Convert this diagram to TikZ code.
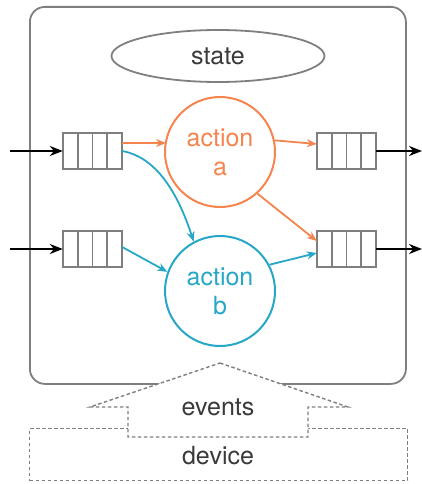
\documentclass[tikz,border=0pt]{standalone}
\usepackage{fontspec}
\setmainfont{TeX Gyre Heros}
\usetikzlibrary{arrows.meta,shapes.geometric,fit}
\definecolor{orng}{HTML}{F5844F}
\definecolor{cyn}{HTML}{26A7C7}
\definecolor{gry}{HTML}{7F7F7F}
\definecolor{txt}{HTML}{3A3A3A}
\tikzset{
  qcell/.style={draw=gry,line width=1.6pt,minimum width=14.75pt,minimum height=36pt,inner sep=0pt,outer sep=0pt},
  act/.style={circle,draw,line width=2pt,minimum size=110pt,inner sep=0pt,align=center,font=\fontsize{25}{29}\selectfont},
  oarr/.style={draw=orng,line width=1.8pt,-{Stealth[length=10pt,width=8pt]}},
  carr/.style={draw=cyn,line width=1.8pt,-{Stealth[length=10pt,width=8pt]}},
  barr/.style={draw=black,line width=2pt,-{Stealth[length=13pt,width=10pt]}},
  dsh/.style={draw=gry,line width=1.4pt,dash pattern=on 3.5pt off 2.5pt},
  lbl/.style={text=txt,font=\fontsize{25}{29}\selectfont}
}
\newcommand{\queue}[3]{%
  \node[qcell,anchor=west] (#1c1) at (#2,#3) {};
  \node[qcell,anchor=west] (#1c2) at (#1c1.east) {};
  \node[qcell,anchor=west] (#1c3) at (#1c2.east) {};
  \node[qcell,anchor=west] (#1c4) at (#1c3.east) {};
  \node[inner sep=0pt,fit=(#1c1)(#1c4)] (#1) {};
}
\begin{document}
\begin{tikzpicture}[x=1pt,y=-1pt]
\useasboundingbox (0,0) rectangle (422,484);
% main box
\node[draw=gry,line width=1.8pt,rounded corners=15pt,minimum width=376pt,minimum height=377pt,anchor=north west,inner sep=0pt] (main) at (29,6) {};
% state
\node[ellipse,draw=gry,line width=1.8pt,minimum width=213pt,minimum height=52pt,inner sep=0pt,lbl] (state) at (218,56) {state};
% actions
\node[act,draw=orng,text=orng] (aa) at (220,152) {action\\a};
\node[act,draw=cyn,text=cyn] (ab) at (220,291) {action\\b};
% queues
\queue{qi1}{63}{151}
\queue{qi2}{63}{249}
\queue{qo1}{317}{151}
\queue{qo2}{317}{249}
% outer arrows
\coordinate (in1) at (10,151);
\coordinate (in2) at (10,249);
\coordinate (out1) at (422,151);
\coordinate (out2) at (422,249);
\draw[barr] (in1) -- (qi1.west);
\draw[barr] (in2) -- (qi2.west);
\draw[barr] (qo1.east) -- (out1);
\draw[barr] (qo2.east) -- (out2);
% internal arrows
\coordinate (aain) at (166,143);
\draw[oarr] ([yshift=8pt]qi1.east) -- (aain);
\draw[carr] (qi1.east) .. controls (160,158) and (180,200) .. (ab.118);
\draw[carr] ([yshift=2pt]qi2.east) -- (ab.160);
\draw[oarr] (aa.12) -- ([yshift=7pt]qo1.west);
\draw[oarr] (aa.-48) -- ([yshift=8pt]qo2.west);
\draw[carr] (ab.28) -- ([yshift=-4pt]qo2.west);
% device
\node[dsh,fill=white,minimum width=378pt,minimum height=52pt,anchor=north west,inner sep=0pt] (dev) at (29,428) {};
\node[lbl] (devt) at (218,456) {device};
% events arrow
\draw[dsh,fill=white] (220,363) -- (348,407) -- (308,407) -- (308,437) -- (128,437) -- (128,407) -- (90,407) -- cycle;
\node[lbl] (evt) at (218,407) {events};
\end{tikzpicture}
\end{document}
